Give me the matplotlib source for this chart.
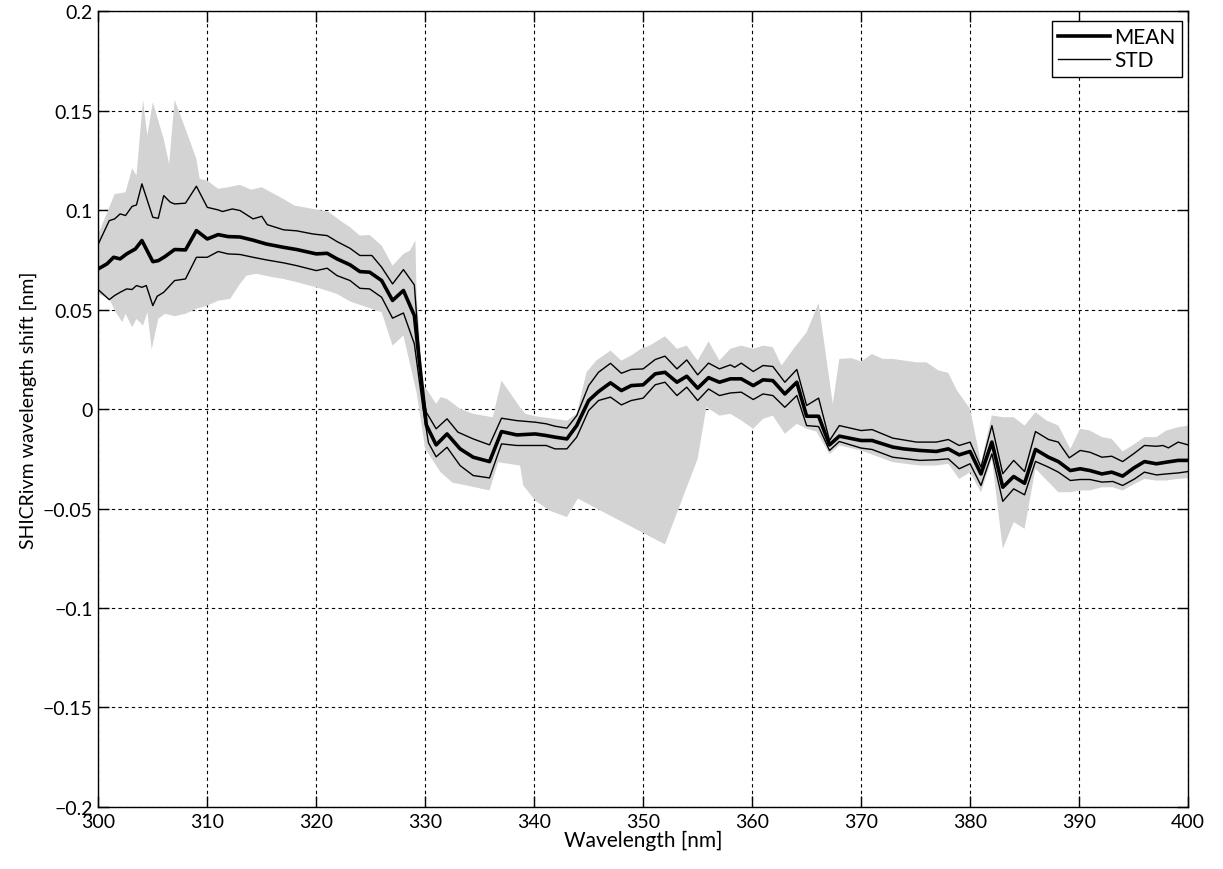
import matplotlib
matplotlib.use("Agg")
import matplotlib.pyplot as plt
from matplotlib.ticker import FixedLocator, FixedFormatter

# ---------------------------------------------------------------------------
# data
# ---------------------------------------------------------------------------

wl_mean = [300.0, 300.8, 301.4, 302.0, 302.6, 303.4, 304.0, 305.0, 305.5, 306.1,
           307.0, 308.0, 309.0, 310.0, 311.0, 311.9, 313.0, 314.2, 315.4, 317.0,
           318.2, 320.0, 321.0, 321.9, 323.1, 324.0, 324.9, 326.0, 327.0, 328.0,
           329.0, 330.1, 331.0, 332.0, 333.2, 334.4, 335.9, 337.0, 338.4, 340.1,
           341.1, 341.9, 343.0, 343.9, 345.0, 345.9, 347.0, 348.0, 348.9, 350.0,
           351.1, 352.0, 353.1, 354.0, 355.0, 356.0, 357.0, 358.0, 359.0, 360.1,
           361.0, 361.9, 363.0, 364.1, 365.0, 366.1, 367.1, 368.0, 370.0, 371.0,
           372.9, 373.9, 375.4, 376.9, 378.0, 379.0, 380.0, 381.0, 382.0, 383.0,
           384.0, 385.0, 386.0, 387.2, 388.1, 389.2, 390.1, 391.0, 392.1, 393.0,
           394.0, 395.0, 396.0, 397.1, 398.0, 399.1, 400.0]
mean = [0.0705, 0.0730, 0.0763, 0.0755, 0.0780, 0.0805, 0.0847, 0.0741, 0.0746, 0.0766,
        0.0802, 0.0800, 0.0897, 0.0855, 0.0877, 0.0867, 0.0865, 0.0849, 0.0830, 0.0813,
        0.0802, 0.0780, 0.0783, 0.0755, 0.0725, 0.0691, 0.0688, 0.0646, 0.0546, 0.0596,
        0.0470, -0.0080, -0.0180, -0.0125, -0.0200, -0.0242, -0.0264, -0.0113, -0.0130, -0.0125,
        -0.0133, -0.0141, -0.0150, -0.0083, 0.0043, 0.0088, 0.0132, 0.0093, 0.0118, 0.0122,
        0.0177, 0.0185, 0.0135, 0.0165, 0.0105, 0.0158, 0.0135, 0.0152, 0.0152, 0.0118,
        0.0147, 0.0143, 0.0076, 0.0135, -0.0036, -0.0036, -0.0180, -0.0136, -0.0158, -0.0158,
        -0.0191, -0.0200, -0.0208, -0.0213, -0.0200, -0.0230, -0.0213, -0.0326, -0.0166, -0.0393,
        -0.0339, -0.0373, -0.0203, -0.0242, -0.0264, -0.0309, -0.0300, -0.0309, -0.0326, -0.0317,
        -0.0337, -0.0297, -0.0264, -0.0275, -0.0267, -0.0258, -0.0258]

wl_std_hi = [300.0, 301.0, 301.5, 302.0, 302.5, 303.1, 303.5, 304.0, 305.0, 305.5,
             306.0, 306.6, 307.0, 308.0, 309.0, 310.0, 311.0, 311.4, 312.3, 313.0,
             314.2, 315.0, 315.5, 317.0, 318.2, 319.7, 321.0, 321.9, 323.1, 324.0,
             325.1, 326.0, 327.0, 328.0, 329.0, 329.7, 330.1, 331.0, 332.0, 333.0,
             334.4, 335.9, 337.0, 338.4, 340.1, 341.1, 341.9, 343.0, 343.9, 345.0,
             345.9, 347.0, 348.0, 348.9, 350.0, 351.1, 352.0, 353.1, 354.0, 355.0,
             356.0, 357.0, 358.0, 358.4, 359.0, 360.1, 361.0, 361.9, 363.0, 364.1,
             365.0, 366.1, 367.1, 368.0, 370.0, 371.0, 372.9, 375.1, 376.9, 378.0,
             379.0, 380.0, 381.0, 382.0, 383.0, 384.0, 385.0, 386.0, 387.2, 388.1,
             389.1, 390.1, 391.0, 392.1, 393.0, 394.0, 395.0, 396.0, 397.1, 397.7,
             398.2, 399.1, 400.0]
std_hi = [0.0830, 0.0947, 0.0956, 0.0981, 0.0973, 0.1019, 0.1026, 0.1132, 0.0964, 0.0959,
          0.1073, 0.1040, 0.1031, 0.1035, 0.1120, 0.1014, 0.1001, 0.0993, 0.1006, 0.0998,
          0.0956, 0.0969, 0.0927, 0.0901, 0.0896, 0.0880, 0.0872, 0.0842, 0.0808, 0.0772,
          0.0772, 0.0713, 0.0629, 0.0701, 0.0624, 0.0102, -0.0016, -0.0099, -0.0049, -0.0116,
          -0.0150, -0.0180, -0.0046, -0.0058, -0.0066, -0.0074, -0.0086, -0.0096, -0.0033, 0.0118,
          0.0185, 0.0230, 0.0180, 0.0199, 0.0202, 0.0249, 0.0266, 0.0202, 0.0247, 0.0172,
          0.0231, 0.0202, 0.0222, 0.0210, 0.0231, 0.0189, 0.0219, 0.0214, 0.0135, 0.0199,
          0.0018, 0.0055, -0.0158, -0.0083, -0.0108, -0.0103, -0.0146, -0.0166, -0.0166, -0.0153,
          -0.0183, -0.0166, -0.0292, -0.0083, -0.0325, -0.0258, -0.0314, -0.0113, -0.0153, -0.0166,
          -0.0245, -0.0208, -0.0217, -0.0242, -0.0237, -0.0264, -0.0225, -0.0183, -0.0187, -0.0183,
          -0.0195, -0.0166, -0.0180]

wl_std_lo = [300.0, 301.0, 301.5, 302.0, 302.6, 303.1, 303.5, 304.0, 304.4, 305.0,
             305.4, 306.0, 307.0, 308.0, 309.0, 310.0, 311.0, 311.9, 313.0, 314.2,
             315.4, 317.0, 318.2, 320.0, 321.0, 321.9, 323.1, 324.0, 324.9, 326.0,
             327.0, 328.0, 329.0, 329.8, 330.3, 331.0, 332.0, 333.2, 334.4, 335.9,
             337.0, 338.4, 340.1, 341.1, 341.9, 343.0, 343.9, 345.0, 345.9, 347.0,
             348.0, 348.9, 350.0, 351.1, 352.0, 353.1, 354.0, 355.0, 356.0, 357.0,
             358.0, 359.0, 360.1, 361.0, 361.9, 363.0, 364.1, 365.0, 366.1, 367.1,
             368.0, 370.0, 371.0, 372.9, 375.4, 376.9, 378.0, 379.0, 380.0, 381.0,
             382.0, 383.0, 384.0, 385.0, 386.0, 387.2, 388.1, 389.2, 390.1, 391.0,
             392.1, 393.1, 394.0, 395.1, 396.0, 397.1, 398.0, 399.1, 400.0]
std_lo = [0.0600, 0.0550, 0.0571, 0.0587, 0.0604, 0.0601, 0.0621, 0.0612, 0.0621, 0.0520,
          0.0567, 0.0587, 0.0646, 0.0654, 0.0763, 0.0763, 0.0792, 0.0780, 0.0777, 0.0763,
          0.0750, 0.0735, 0.0721, 0.0696, 0.0708, 0.0671, 0.0646, 0.0607, 0.0604, 0.0562,
          0.0457, 0.0483, 0.0328, 0.0001, -0.0170, -0.0240, -0.0192, -0.0284, -0.0334, -0.0346,
          -0.0175, -0.0183, -0.0183, -0.0183, -0.0200, -0.0200, -0.0141, -0.0007, 0.0043, 0.0060,
          0.0021, 0.0043, 0.0055, 0.0122, 0.0135, 0.0068, 0.0110, 0.0043, 0.0101, 0.0068,
          0.0081, 0.0085, 0.0048, 0.0076, 0.0068, 0.0009, 0.0068, -0.0083, -0.0088, -0.0208,
          -0.0163, -0.0196, -0.0203, -0.0242, -0.0258, -0.0255, -0.0250, -0.0300, -0.0275, -0.0384,
          -0.0225, -0.0464, -0.0401, -0.0431, -0.0263, -0.0292, -0.0317, -0.0359, -0.0354, -0.0354,
          -0.0367, -0.0364, -0.0384, -0.0351, -0.0317, -0.0331, -0.0326, -0.0321, -0.0314]

wl_max = [300.0, 301.0, 301.5, 302.5, 303.1, 303.5, 304.1, 304.5, 305.0, 306.0,
          306.5, 307.0, 308.0, 309.0, 309.3, 310.0, 311.0, 311.9, 313.0, 314.0,
          315.0, 316.0, 317.0, 318.0, 320.0, 321.1, 322.2, 323.1, 324.0, 324.9,
          326.0, 327.0, 328.0, 328.6, 329.1, 329.2, 329.8, 330.1, 331.0, 331.4,
          332.0, 333.2, 334.4, 336.2, 337.0, 338.7, 339.2, 340.1, 341.4, 343.0,
          343.9, 344.8, 345.7, 347.0, 348.0, 348.9, 349.8, 350.6, 352.0, 353.1,
          354.0, 355.0, 356.0, 357.0, 358.0, 359.0, 360.1, 361.0, 361.9, 362.7,
          363.8, 365.0, 366.1, 367.4, 368.0, 369.1, 370.0, 371.0, 372.0, 372.9,
          375.1, 376.0, 377.1, 378.0, 378.8, 380.0, 381.0, 382.0, 383.0, 384.0,
          385.0, 386.0, 387.0, 388.1, 389.2, 390.1, 391.0, 392.1, 393.0, 394.0,
          395.1, 396.0, 397.1, 398.0, 399.1, 400.0]
band_max = [0.0880, 0.1014, 0.1081, 0.1090, 0.1210, 0.1174, 0.1555, 0.1375, 0.1542, 0.1358,
            0.1232, 0.1555, 0.1408, 0.1257, 0.1157, 0.1148, 0.1107, 0.1115, 0.1127, 0.1103,
            0.1115, 0.1085, 0.1056, 0.1023, 0.1003, 0.0993, 0.0947, 0.0914, 0.0872, 0.0875,
            0.0822, 0.0721, 0.0780, 0.0797, 0.0847, 0.0587, 0.0118, 0.0102, 0.0026, 0.0060,
            0.0051, 0.0001, -0.0024, -0.0041, 0.0143, 0.0009, -0.0024, -0.0036, -0.0046, -0.0058,
            -0.0024, 0.0185, 0.0244, 0.0294, 0.0244, 0.0269, 0.0303, 0.0319, 0.0366, 0.0303,
            0.0319, 0.0244, 0.0340, 0.0244, 0.0303, 0.0319, 0.0303, 0.0319, 0.0311, 0.0219,
            0.0303, 0.0386, 0.0534, 0.0026, 0.0252, 0.0256, 0.0239, 0.0277, 0.0252, 0.0252,
            0.0235, 0.0235, 0.0194, 0.0182, 0.0093, 0.0001, -0.0270, -0.0032, -0.0041, -0.0041,
            -0.0083, -0.0016, -0.0057, -0.0083, -0.0200, -0.0099, -0.0108, -0.0141, -0.0150, -0.0213,
            -0.0175, -0.0141, -0.0141, -0.0108, -0.0091, -0.0083]

wl_min = [300.0, 301.0, 301.6, 302.2, 302.5, 303.1, 303.5, 304.1, 304.5, 304.9,
          305.5, 306.1, 307.0, 308.0, 309.0, 310.0, 311.0, 312.1, 313.0, 313.6,
          314.5, 316.0, 317.0, 318.2, 320.0, 321.9, 323.1, 324.0, 326.0, 327.0,
          328.0, 329.2, 330.0, 331.4, 332.5, 333.8, 335.9, 336.7, 338.7, 339.0,
          340.1, 341.4, 343.0, 344.0, 352.0, 355.0, 355.8, 357.0, 358.0, 359.0,
          360.1, 361.0, 361.9, 363.0, 364.1, 365.0, 365.9, 367.1, 368.0, 370.0,
          372.9, 375.4, 376.9, 378.0, 379.0, 380.0, 381.0, 382.0, 383.0, 384.0,
          385.0, 386.0, 387.2, 388.1, 389.2, 390.1, 391.0, 392.1, 393.1, 394.0,
          395.1, 396.0, 397.1, 398.0, 399.1, 400.0]
band_min = [0.0579, 0.0554, 0.0487, 0.0437, 0.0479, 0.0412, 0.0453, 0.0420, 0.0487, 0.0300,
            0.0453, 0.0479, 0.0467, 0.0479, 0.0504, 0.0520, 0.0545, 0.0554, 0.0629, 0.0671,
            0.0680, 0.0663, 0.0654, 0.0638, 0.0612, 0.0579, 0.0541, 0.0524, 0.0487, 0.0319,
            0.0370, 0.0085, -0.0200, -0.0317, -0.0370, -0.0384, -0.0409, -0.0267, -0.0284, -0.0384,
            -0.0460, -0.0510, -0.0543, -0.0450, -0.0680, -0.0250, 0.0010, -0.0033, -0.0024, -0.0057,
            -0.0099, -0.0049, -0.0033, -0.0124, -0.0074, -0.0099, -0.0113, -0.0226, -0.0183, -0.0208,
            -0.0267, -0.0284, -0.0284, -0.0275, -0.0351, -0.0317, -0.0418, -0.0250, -0.0702, -0.0568,
            -0.0602, -0.0300, -0.0367, -0.0418, -0.0418, -0.0409, -0.0409, -0.0393, -0.0393, -0.0409,
            -0.0376, -0.0351, -0.0359, -0.0359, -0.0351, -0.0347]

x_ticks = [300, 310, 320, 330, 340, 350, 360, 370, 380, 390, 400]
y_ticks = [-0.2, -0.15, -0.1, -0.05, 0.0, 0.05, 0.1, 0.15, 0.2]
y_tick_labels = ["\u22120.2", "\u22120.15", "\u22120.1", "\u22120.05", "0",
                 "0.05", "0.1", "0.15", "0.2"]

# ---------------------------------------------------------------------------
# plot
# ---------------------------------------------------------------------------

plt.rcParams["font.family"] = ["Lato", "DejaVu Sans"]

fig = plt.figure(figsize=(12.23, 8.70), dpi=100)
ax = fig.add_axes([0.0804, 0.0713, 0.8910, 0.9147])

# min/max envelope as one polygon (top edge forward, bottom edge back)
poly_x = wl_max + wl_min[::-1]
poly_y = band_max + band_min[::-1]
ax.fill(poly_x, poly_y, color="#d3d3d3", lw=0, zorder=1)

ax.plot(wl_mean, mean, color="black", lw=2.6, zorder=3, label="MEAN")
ax.plot(wl_std_hi, std_hi, color="black", lw=1.0, zorder=3, label="STD")
ax.plot(wl_std_lo, std_lo, color="black", lw=1.0, zorder=3)

ax.set_xlim(300, 400)
ax.set_ylim(-0.2, 0.2)
ax.xaxis.set_major_locator(FixedLocator(x_ticks))
ax.yaxis.set_major_locator(FixedLocator(y_ticks))
ax.yaxis.set_major_formatter(FixedFormatter(y_tick_labels))
ax.tick_params(direction="in", top=True, right=True, length=8, width=1,
               labelsize=14, pad=4)
ax.grid(True, color="black", linestyle=(0, (3, 3)), linewidth=0.8, zorder=0)
ax.set_axisbelow(True)
for sp in ax.spines.values():
    sp.set_linewidth(1.0)

ax.set_xlabel("Wavelength [nm]", fontsize=15, labelpad=0)
ax.set_ylabel("SHICRivm wavelength shift [nm]", fontsize=14, labelpad=4)

leg = ax.legend(loc="upper right", bbox_to_anchor=(0.9942, 0.9877),
                fontsize=15, frameon=True, fancybox=False,
                framealpha=1, edgecolor="black", borderaxespad=0,
                handlelength=2.5, handletextpad=0.2, borderpad=0.3,
                labelspacing=0.15)
leg.get_frame().set_linewidth(1.0)

fig.savefig("out.png", dpi=100)
